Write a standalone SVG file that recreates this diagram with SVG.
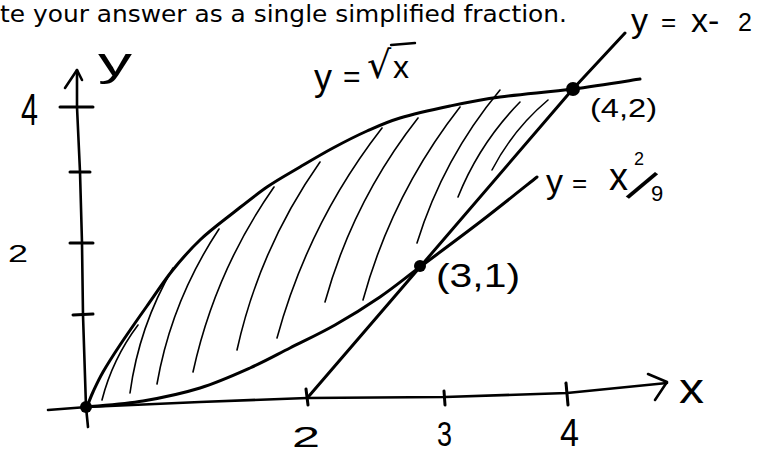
<svg xmlns="http://www.w3.org/2000/svg" width="759" height="454" viewBox="0 0 759 454">
<style>
.bold{fill:none;stroke:#000;stroke-width:3;stroke-linecap:round;stroke-linejoin:round}
.axis{fill:none;stroke:#000;stroke-width:2.6;stroke-linecap:round;stroke-linejoin:round}
.tick{fill:none;stroke:#000;stroke-width:3;stroke-linecap:round}
.hatch{fill:none;stroke:#000;stroke-width:1.6;stroke-linecap:round}
.dot{fill:#000}
.hand{font-family:"Liberation Sans","DejaVu Sans",sans-serif;fill:#000}
.top{font-family:"DejaVu Sans","Liberation Sans",sans-serif;fill:#000;font-size:23px}
</style>
<rect x="0" y="0" width="759" height="454" fill="#fff"/>

<text class="top" x="0" y="22" textLength="567" lengthAdjust="spacingAndGlyphs">te your answer as a single simplified fraction.</text>

<g id="hatching">
<path class="hatch" d="M138,325 Q112.5,358.9 102,400"/>
<path class="hatch" d="M173,268 Q139,326.2 130,393"/>
<path class="hatch" d="M219,229 Q171.4,301 157,384"/>
<path class="hatch" d="M274,187 Q215,271.2 193,372"/>
<path class="hatch" d="M320,162 Q259.7,247.7 237,350"/>
<path class="hatch" d="M382,128 Q308.5,222.5 277,338"/>
<path class="hatch" d="M418,118 Q353.1,200.7 325,302"/>
<path class="hatch" d="M460,107 Q392.2,193.8 363,300"/>
<path class="hatch" d="M500,90 Q443.2,158.2 417,243"/>
<path class="hatch" d="M520,102 Q479.5,143.3 458,197"/>
<path class="hatch" d="M548,100 Q513,129.4 492,170"/>
</g>

<g id="axes">
<polyline class="axis" points="88,427 86,407 83,315 82,243 80,172 77,107 77,70"/>
<polyline class="axis" points="65,88 77,70 82,80"/>
<polyline class="axis" points="48,410 87,407 200,402 307,398 445,397 567,393 667,383"/>
<polyline class="axis" points="648,374 667,382 655,400"/>
<line class="tick" x1="60" y1="107" x2="93" y2="107"/>
<line class="tick" x1="70" y1="172" x2="90" y2="172"/>
<line class="tick" x1="70" y1="243" x2="93" y2="243"/>
<line class="tick" x1="73" y1="315" x2="93" y2="314"/>
<line class="tick" x1="306" y1="389" x2="308" y2="405"/>
<line class="tick" x1="444" y1="391" x2="445" y2="405"/>
<line class="tick" x1="566" y1="383" x2="568" y2="405"/>
</g>

<g id="curves">
<path id="sqrt" class="bold" d="M87,407 C88,404.5 90.3,397.8 93,392 C95.7,386.2 98.5,379.8 103,372 C107.5,364.2 112.7,356 120,345 C127.3,334 138.3,318.3 147,306 C155.7,293.7 163.2,282 172,271 C180.8,260 189.8,249.7 200,240 C210.2,230.3 221.8,221.8 233,213 C244.2,204.2 255.8,194.7 267,187 C278.2,179.3 289,173.5 300,167 C311,160.5 321.8,154 333,148 C344.2,142 355.8,136 367,131 C378.2,126 386.2,122.2 400,118 C413.8,113.8 433.3,109.5 450,106 C466.7,102.5 479.5,99.8 500,97 C520.5,94.2 549.7,92 573,89 C596.3,86 628.8,80.7 640,79"/>
<path id="parabola" class="bold" d="M87,407 C96.3,406 124.2,404.2 143,401 C161.8,397.8 182.2,393.5 200,388 C217.8,382.5 235,374.7 250,368 C265,361.3 275.8,355.2 290,348 C304.2,340.8 320,333.5 335,325 C350,316.5 365.8,306.7 380,297 C394.2,287.3 403.3,279.5 420,267 C436.7,254.5 460.5,237 480,222 C499.5,207 527.5,184.5 537,177"/>
<polyline id="line" class="bold" points="309,396 420,267 572,90 625,33"/>
</g>

<g id="points">
<circle class="dot" cx="86" cy="407" r="6"/>
<circle class="dot" cx="420" cy="266" r="6"/>
<circle class="dot" cx="573" cy="89" r="7"/>
</g>

<g id="labels">
<text class="hand" x="98" y="76" font-size="40" textLength="34" lengthAdjust="spacingAndGlyphs">y</text>
<text class="hand" x="21" y="125" font-size="44" textLength="17" lengthAdjust="spacingAndGlyphs">4</text>
<text class="hand" x="8" y="262" font-size="24" textLength="20" lengthAdjust="spacingAndGlyphs">2</text>
<text class="hand" x="292" y="447" font-size="30" textLength="28" lengthAdjust="spacingAndGlyphs">2</text>
<text class="hand" x="437" y="446" font-size="35" textLength="15" lengthAdjust="spacingAndGlyphs">3</text>
<text class="hand" x="560" y="446" font-size="38" textLength="19" lengthAdjust="spacingAndGlyphs">4</text>
<text class="hand" x="679" y="403" font-size="42" textLength="25" lengthAdjust="spacingAndGlyphs">x</text>
<text class="hand"><tspan x="314" y="90" font-size="36">y</tspan> <tspan x="343" y="87" font-size="30">=</tspan> <tspan x="367" y="78" font-size="38" font-family="DejaVu Sans">√</tspan><tspan x="393" y="78" font-size="32">x</tspan></text>
<line x1="391" y1="45" x2="415" y2="43" stroke="#000" stroke-width="2.4" stroke-linecap="round"/>
<text class="hand"><tspan x="631" y="32" font-size="34">y</tspan> <tspan x="661" y="31" font-size="26">=</tspan> <tspan x="691" y="32" font-size="34">x-</tspan> <tspan x="738" y="31" font-size="25">2</tspan></text>
<text class="hand" x="590" y="117" font-size="26" textLength="67" lengthAdjust="spacingAndGlyphs">(4,2)</text>
<text class="hand"><tspan x="546" y="193" font-size="34">y</tspan><tspan x="572" y="192" font-size="26">=</tspan> <tspan x="609" y="190" font-size="38">x</tspan><tspan x="634" y="165" font-size="18">2</tspan><tspan x="626" y="196" font-size="50" rotate="35">/</tspan><tspan x="651" y="201" font-size="22">9</tspan></text>
<text class="hand" x="436" y="287" font-size="34" textLength="84" lengthAdjust="spacingAndGlyphs">(3,1)</text>
</g>
</svg>
